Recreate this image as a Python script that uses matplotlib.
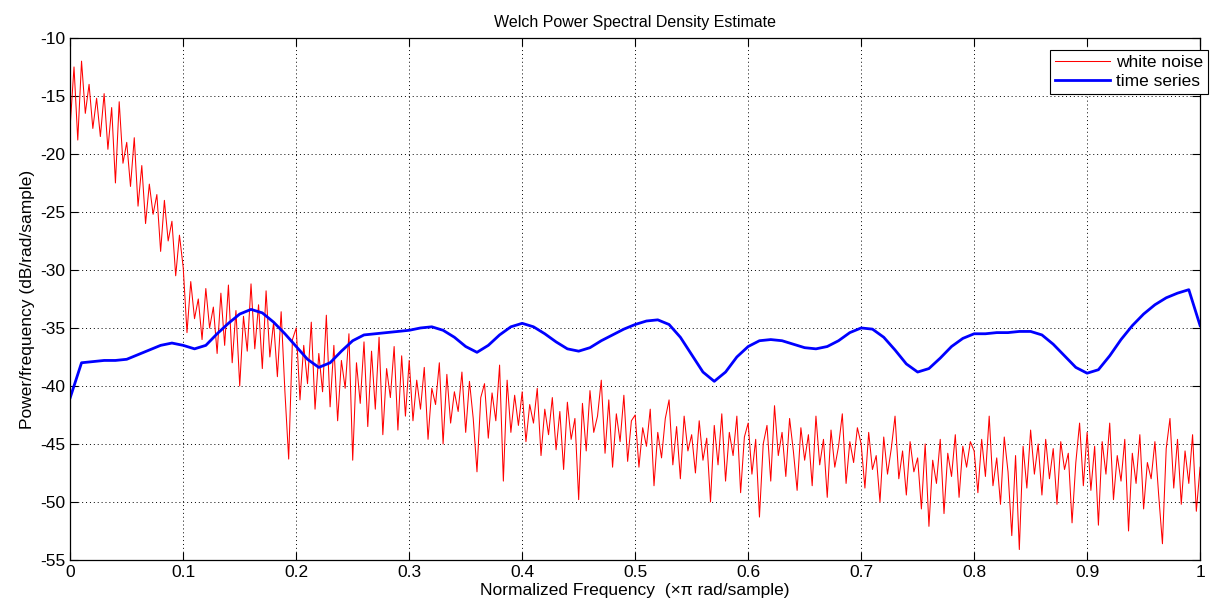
import numpy as np
import matplotlib
matplotlib.use("Agg")
import matplotlib.pyplot as plt

# ── Welch PSD of the white-noise input (dB/rad/sample), 30 bins per 0.1 ────
noise_db = [
    # 0.0 – 0.1
    -17.5, -12.5, -18.8, -12.0, -16.5, -14.0, -17.8, -15.2, -18.5, -14.8,
    -19.6, -16.0, -22.5, -15.5, -20.8, -19.0, -22.8, -18.6, -24.5, -21.0,
    -26.0, -22.6, -25.2, -23.5, -28.4, -24.0, -27.5, -25.8, -30.5, -27.0,
    # 0.1 – 0.2
    -29.8, -35.4, -31.0, -34.2, -32.5, -36.0, -31.6, -35.0, -33.2, -37.2,
    -32.0, -36.5, -31.3, -38.0, -33.5, -40.0, -34.0, -37.0, -31.2, -36.8,
    -33.0, -38.5, -31.8, -37.5, -34.5, -39.2, -33.6, -40.5, -46.3, -36.0,
    # 0.2 – 0.3
    -35.0, -41.2, -36.5, -39.8, -34.5, -42.0, -37.2, -40.5, -33.9, -41.8,
    -36.5, -43.0, -37.8, -40.2, -35.5, -46.4, -38.0, -41.5, -36.2, -43.5,
    -37.0, -42.0, -35.8, -44.2, -38.5, -41.0, -36.6, -43.8, -37.4, -42.6,
    # 0.3 – 0.4
    -37.8, -43.0, -39.5, -42.0, -38.4, -44.6, -40.2, -41.6, -38.0, -45.0,
    -39.0, -43.2, -40.5, -42.2, -38.8, -44.0, -39.6, -42.8, -47.4, -41.0,
    -39.8, -44.5, -40.6, -43.0, -38.2, -48.2, -39.5, -44.0, -40.8, -43.4,
    # 0.4 – 0.5
    -40.5, -44.8, -41.6, -43.2, -40.2, -46.0, -42.0, -44.2, -41.0, -45.5,
    -42.2, -47.2, -41.4, -44.6, -42.8, -49.8, -41.5, -45.6, -40.4, -44.0,
    -42.6, -39.5, -45.8, -41.2, -47.0, -42.4, -44.8, -40.8, -46.5, -43.0,
    # 0.5 – 0.6
    -42.5, -47.0, -43.6, -45.2, -42.0, -48.6, -44.0, -46.2, -42.8, -41.2,
    -46.8, -43.5, -48.0, -42.6, -45.6, -44.2, -47.5, -43.0, -46.4, -44.5,
    -50.0, -43.4, -46.8, -42.4, -48.2, -44.0, -46.0, -42.6, -49.2, -44.4,
    # 0.6 – 0.7
    -43.2, -47.6, -44.6, -51.3, -45.0, -43.4, -48.2, -41.7, -46.0, -44.0,
    -47.8, -42.8, -45.6, -49.0, -43.6, -46.4, -44.2, -48.6, -42.6, -46.8,
    -44.6, -49.6, -43.8, -47.0, -45.2, -42.4, -48.4, -44.8, -46.6, -43.6,
    # 0.7 – 0.8
    -45.0, -48.8, -44.0, -47.2, -46.0, -50.0, -44.4, -47.6, -45.4, -42.6,
    -48.0, -45.6, -49.4, -44.8, -47.4, -46.2, -50.6, -45.0, -52.1, -46.4,
    -48.4, -44.6, -51.0, -45.8, -47.8, -44.2, -49.6, -45.2, -47.0, -44.8,
    # 0.8 – 0.9
    -45.6, -49.2, -44.6, -47.8, -42.6, -48.6, -46.2, -50.2, -44.4, -47.4,
    -52.9, -46.0, -54.1, -45.2, -48.8, -43.8, -47.6, -45.0, -49.4, -44.6,
    -48.0, -45.4, -50.2, -44.8, -47.2, -45.8, -51.8, -46.6, -43.2, -48.6,
    # 0.9 – 1.0
    -44.0, -49.0, -45.2, -52.0, -44.8, -47.6, -43.2, -49.8, -46.0, -48.2,
    -44.6, -52.5, -45.8, -48.4, -44.2, -50.6, -46.6, -48.0, -44.8, -49.4,
    -53.6, -45.4, -42.8, -48.8, -44.6, -50.2, -45.6, -48.4, -44.2, -50.8,
    -47.0,
]

# ── Welch PSD of the filtered time series, one value per 0.01 ──────────────
series_db = [
    -41.0, -38.0, -37.9, -37.8, -37.8, -37.7, -37.3, -36.9, -36.5, -36.3,
    -36.5, -36.8, -36.5, -35.5, -34.6, -33.8, -33.4, -33.7, -34.5, -35.5,
    -36.6, -37.7, -38.4, -38.0, -37.0, -36.1, -35.6, -35.5, -35.4, -35.3,
    -35.2, -35.0, -34.9, -35.2, -35.8, -36.6, -37.1, -36.5, -35.6, -34.9,
    -34.6, -34.9, -35.5, -36.2, -36.8, -37.0, -36.7, -36.1, -35.6, -35.1,
    -34.7, -34.4, -34.3, -34.7, -35.8, -37.3, -38.8, -39.6, -38.8, -37.5,
    -36.6, -36.1, -36.0, -36.1, -36.4, -36.7, -36.8, -36.6, -36.1, -35.4,
    -35.0, -35.1, -35.8, -36.9, -38.1, -38.8, -38.5, -37.6, -36.6, -35.9,
    -35.5, -35.5, -35.4, -35.4, -35.3, -35.3, -35.6, -36.4, -37.4, -38.4,
    -38.9, -38.6, -37.4, -36.0, -34.8, -33.8, -33.0, -32.4, -32.0, -31.7,
    -34.8,
]

x_ticks = [0, 0.1, 0.2, 0.3, 0.4, 0.5, 0.6, 0.7, 0.8, 0.9, 1]
x_ticklabels = ["0", "0.1", "0.2", "0.3", "0.4", "0.5", "0.6", "0.7", "0.8", "0.9", "1"]
y_ticks = [-55, -50, -45, -40, -35, -30, -25, -20, -15, -10]

f_noise = np.linspace(0, 1, len(noise_db))
f_series = np.linspace(0, 1, len(series_db))

plt.rcParams["font.family"] = ["Liberation Sans", "DejaVu Sans"]
plt.rcParams["axes.unicode_minus"] = False

fig = plt.figure(figsize=(12.11, 6.12), dpi=100)
ax = fig.add_axes([0.058, 0.085, 0.933, 0.853])

ax.plot(f_noise, noise_db, color="#ff0000", lw=0.75, label="white noise")
ax.plot(f_series, series_db, color="#0000ff", lw=2.0, label="time series")

ax.set_xlim(0, 1)
ax.set_ylim(-55, -10)
ax.set_xticks(x_ticks)
ax.set_xticklabels(x_ticklabels)
ax.set_yticks(y_ticks)
ax.tick_params(direction="in", length=6, width=0.8, labelsize=12.5,
               top=True, right=True, colors="black")
ax.grid(True, linestyle=(0, (1, 3)), color="black", lw=0.7)
for sp in ax.spines.values():
    sp.set_linewidth(0.9)

ax.set_title("Welch Power Spectral Density Estimate", fontsize=11.5, pad=8)
ax.set_xlabel("Normalized Frequency  (\u00d7\u03c0 rad/sample)", fontsize=12.5, labelpad=2)
ax.set_ylabel("Power/frequency (dB/rad/sample)", fontsize=12.5, labelpad=4)

leg = ax.legend(loc="upper right", bbox_to_anchor=(1208 / 1211, 1 - 50 / 612),
                bbox_transform=fig.transFigure, borderaxespad=0,
                fontsize=12.5, fancybox=False, framealpha=1,
                edgecolor="black", handlelength=3.2, handletextpad=0.3,
                borderpad=0.3, labelspacing=0.2)
leg.get_frame().set_linewidth(0.8)

fig.savefig("out.png", dpi=100)
